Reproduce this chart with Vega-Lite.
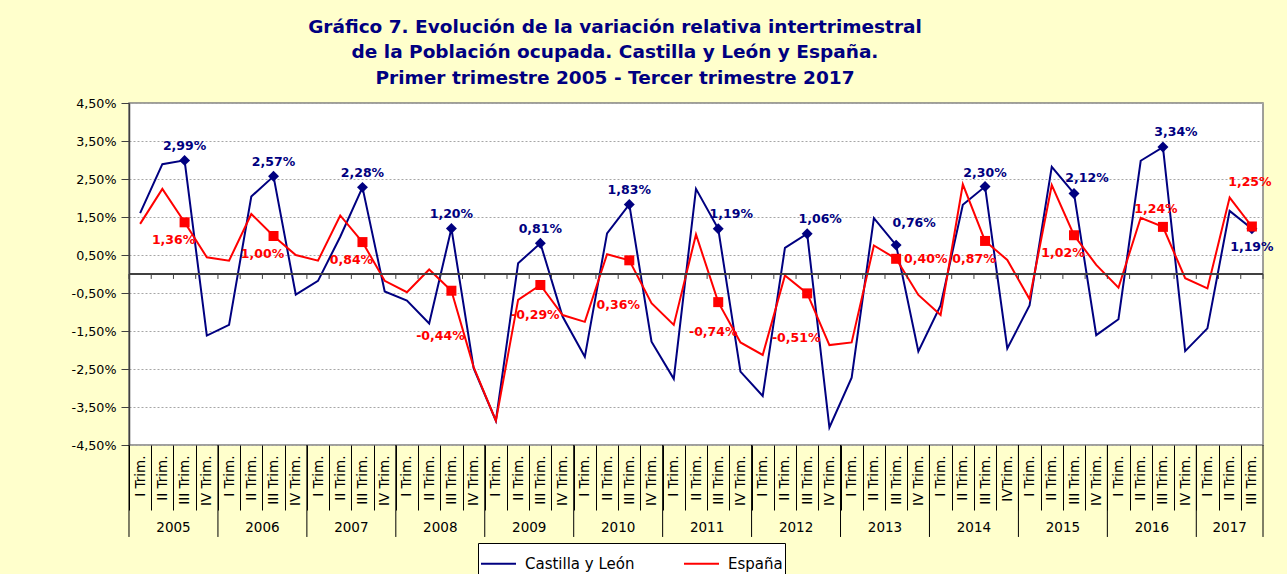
{
  "$schema": "https://vega.github.io/schema/vega-lite/v6.json",
  "width": 1134,
  "height": 342,
  "autosize": {"type": "none"},
  "padding": {"left": 129, "top": 103, "right": 24, "bottom": 129},
  "background": "#FFFFCC",
  "config": {
    "font": "DejaVu Sans",
    "view": {"fill": "white", "stroke": "#808080", "strokeWidth": 1.5}
  },
  "title": {
    "text": ["Gráfico 7. Evolución de la variación relativa intertrimestral", "de la Población ocupada. Castilla  y León y España.", "Primer trimestre 2005 - Tercer trimestre 2017"],
    "font": "DejaVu Sans",
    "fontSize": 18.5,
    "fontWeight": "bold",
    "color": "#000080",
    "anchor": "middle",
    "frame": "group",
    "dx": -81,
    "offset": 10,
    "lineHeight": 25.5
  },
  "datasets": {
    "wide": [
      {"q": "2005-1", "cyl": 1.60, "esp": 1.32},
      {"q": "2005-2", "cyl": 2.89, "esp": 2.24},
      {"q": "2005-3", "cyl": 2.99, "esp": 1.36},
      {"q": "2005-4", "cyl": -1.62, "esp": 0.44},
      {"q": "2006-1", "cyl": -1.34, "esp": 0.35},
      {"q": "2006-2", "cyl": 2.04, "esp": 1.58},
      {"q": "2006-3", "cyl": 2.57, "esp": 1.00},
      {"q": "2006-4", "cyl": -0.54, "esp": 0.50},
      {"q": "2007-1", "cyl": -0.18, "esp": 0.35},
      {"q": "2007-2", "cyl": 0.98, "esp": 1.54},
      {"q": "2007-3", "cyl": 2.28, "esp": 0.84},
      {"q": "2007-4", "cyl": -0.46, "esp": -0.18},
      {"q": "2008-1", "cyl": -0.70, "esp": -0.48},
      {"q": "2008-2", "cyl": -1.30, "esp": 0.12},
      {"q": "2008-3", "cyl": 1.20, "esp": -0.44},
      {"q": "2008-4", "cyl": -2.48, "esp": -2.45},
      {"q": "2009-1", "cyl": -3.86, "esp": -3.86},
      {"q": "2009-2", "cyl": 0.28, "esp": -0.68},
      {"q": "2009-3", "cyl": 0.81, "esp": -0.29},
      {"q": "2009-4", "cyl": -1.12, "esp": -1.08},
      {"q": "2010-1", "cyl": -2.18, "esp": -1.26},
      {"q": "2010-2", "cyl": 1.07, "esp": 0.52},
      {"q": "2010-3", "cyl": 1.83, "esp": 0.36},
      {"q": "2010-4", "cyl": -1.78, "esp": -0.77},
      {"q": "2011-1", "cyl": -2.76, "esp": -1.34},
      {"q": "2011-2", "cyl": 2.24, "esp": 1.04},
      {"q": "2011-3", "cyl": 1.19, "esp": -0.74},
      {"q": "2011-4", "cyl": -2.57, "esp": -1.80},
      {"q": "2012-1", "cyl": -3.21, "esp": -2.13},
      {"q": "2012-2", "cyl": 0.69, "esp": -0.04},
      {"q": "2012-3", "cyl": 1.06, "esp": -0.51},
      {"q": "2012-4", "cyl": -4.04, "esp": -1.87},
      {"q": "2013-1", "cyl": -2.73, "esp": -1.80},
      {"q": "2013-2", "cyl": 1.47, "esp": 0.75},
      {"q": "2013-3", "cyl": 0.76, "esp": 0.40},
      {"q": "2013-4", "cyl": -2.04, "esp": -0.55},
      {"q": "2014-1", "cyl": -0.83, "esp": -1.08},
      {"q": "2014-2", "cyl": 1.82, "esp": 2.36},
      {"q": "2014-3", "cyl": 2.30, "esp": 0.87},
      {"q": "2014-4", "cyl": -1.96, "esp": 0.37},
      {"q": "2015-1", "cyl": -0.83, "esp": -0.66},
      {"q": "2015-2", "cyl": 2.82, "esp": 2.34},
      {"q": "2015-3", "cyl": 2.12, "esp": 1.02},
      {"q": "2015-4", "cyl": -1.61, "esp": 0.24},
      {"q": "2016-1", "cyl": -1.19, "esp": -0.36},
      {"q": "2016-2", "cyl": 2.98, "esp": 1.48},
      {"q": "2016-3", "cyl": 3.34, "esp": 1.24},
      {"q": "2016-4", "cyl": -2.03, "esp": -0.11},
      {"q": "2017-1", "cyl": -1.43, "esp": -0.38},
      {"q": "2017-2", "cyl": 1.66, "esp": 2.01},
      {"q": "2017-3", "cyl": 1.19, "esp": 1.25}
    ],
    "years": [
      {"year": "2005", "first": "2005-1", "mid": "2005-3", "last": "2005-4"},
      {"year": "2006", "first": "2006-1", "mid": "2006-3", "last": "2006-4"},
      {"year": "2007", "first": "2007-1", "mid": "2007-3", "last": "2007-4"},
      {"year": "2008", "first": "2008-1", "mid": "2008-3", "last": "2008-4"},
      {"year": "2009", "first": "2009-1", "mid": "2009-3", "last": "2009-4"},
      {"year": "2010", "first": "2010-1", "mid": "2010-3", "last": "2010-4"},
      {"year": "2011", "first": "2011-1", "mid": "2011-3", "last": "2011-4"},
      {"year": "2012", "first": "2012-1", "mid": "2012-3", "last": "2012-4"},
      {"year": "2013", "first": "2013-1", "mid": "2013-3", "last": "2013-4"},
      {"year": "2014", "first": "2014-1", "mid": "2014-3", "last": "2014-4"},
      {"year": "2015", "first": "2015-1", "mid": "2015-3", "last": "2015-4"},
      {"year": "2016", "first": "2016-1", "mid": "2016-3", "last": "2016-4"},
      {"year": "2017", "first": "2017-1", "mid": "2017-2", "last": "2017-3"}
    ]
  },
  "layer": [
    {
      "data": {"name": "wide"},
      "transform": [{"fold": ["cyl", "esp"], "as": ["serie", "v"]}],
      "mark": {"type": "line", "strokeWidth": 2},
      "encoding": {
        "x": {"field": "q", "type": "ordinal", "title": null,
          "scale": {"type": "point", "padding": 0.5},
          "axis": {"orient": "bottom", "title": null, "domain": false, "grid": false,
            "ticks": true, "tickSize": 65, "tickColor": "black", "tickWidth": 1,
            "tickOffset": -11.12, "labelOffset": 11.12,
            "labelAngle": -90, "labelAlign": "right", "labelBaseline": "middle", "labelPadding": -55,
            "labelFont": "DejaVu Sans", "labelFontSize": 13.5, "labelColor": "black", "labelOverlap": false,
            "labelExpr": "datum.value == '2014-4' ? 'IVTrim.' : (slice(datum.value, 5) == '1' ? 'I Trim.' : slice(datum.value, 5) == '2' ? 'II Trim.' : slice(datum.value, 5) == '3' ? 'III Trim.' : 'IV Trim.')"}},
        "y": {"field": "v", "type": "quantitative", "title": null,
          "scale": {"domain": [-4.5, 4.5], "nice": false, "zero": false},
          "axis": {"orient": "left", "title": null, "values": [4.5, 3.5, 2.5, 1.5, 0.5, -0.5, -1.5, -2.5, -3.5, -4.5],
            "tickCount": 20,
            "labelExpr": "replace(replace(format(datum.value, '.2f'), '.', ','), '−', '-') + '%'",
            "labelFont": "DejaVu Sans", "labelFontSize": 12.7, "labelColor": "black", "labelOverlap": false,
            "labelPadding": 5, "tickSize": 8, "tickColor": "#404040", "domainColor": "#404040", "domainWidth": 1.5,
            "grid": true, "gridColor": "#A6A6A6", "gridDash": [2, 2], "gridWidth": 1}},
        "color": {"field": "serie", "type": "nominal",
          "scale": {"domain": ["cyl", "esp"], "range": ["#000080", "#FF0000"]},
          "legend": {"orient": "none", "legendX": 349, "legendY": 440, "direction": "horizontal", "title": null,
            "labelExpr": "datum.value == 'cyl' ? 'Castilla y León' : 'España'",
            "symbolType": "stroke", "symbolSize": 1225, "symbolStrokeWidth": 2,
            "labelFont": "DejaVu Sans", "labelFontSize": 15, "labelColor": "black", "labelOffset": 8,
            "strokeColor": "black", "fillColor": "white", "padding": 2, "columnPadding": 45}}
      }
    },
    {
      "data": {"name": "wide"},
      "mark": {"type": "rule", "color": "#404040", "strokeWidth": 1.5},
      "encoding": {
        "y": {"datum": 0, "title": null}
      }
    },
    {
      "data": {"name": "wide"},
      "mark": {"type": "rule", "color": "#404040", "strokeWidth": 1, "xOffset": -11.12},
      "encoding": {
        "x": {"field": "q", "type": "ordinal", "title": null},
        "y": {"datum": 0, "title": null},
        "y2": {"datum": -0.13}
      }
    },
    {
      "data": {"name": "wide"},
      "transform": [{"filter": "slice(datum.q, 5) == '3'"}],
      "mark": {"type": "point", "shape": "diamond", "filled": true, "opacity": 1, "size": 120, "color": "#000080"},
      "encoding": {
        "x": {"field": "q", "type": "ordinal", "title": null},
        "y": {"field": "cyl", "type": "quantitative", "title": null}
      }
    },
    {
      "data": {"name": "wide"},
      "transform": [{"filter": "slice(datum.q, 5) == '3'"}],
      "mark": {"type": "point", "shape": "square", "filled": true, "opacity": 1, "size": 100, "color": "#FF0000"},
      "encoding": {
        "x": {"field": "q", "type": "ordinal", "title": null},
        "y": {"field": "esp", "type": "quantitative", "title": null}
      }
    },
    {
      "data": {"name": "wide"},
      "transform": [{"filter": {"field": "q", "oneOf": ["2005-3", "2006-3", "2007-3", "2008-3", "2009-3", "2010-3", "2014-3"]}}],
      "mark": {"type": "text", "fontWeight": "bold", "fontSize": 12.5, "color": "#000080", "dx": 0, "dy": -14,
        "text": {"expr": "replace(replace(format(datum.cyl, '.2f'), '.', ','), '−', '-') + '%'"}},
      "encoding": {
        "x": {"field": "q", "type": "ordinal", "title": null},
        "y": {"field": "cyl", "type": "quantitative", "title": null}
      }
    },
    {
      "data": {"name": "wide"},
      "transform": [{"filter": {"field": "q", "oneOf": ["2011-3", "2012-3", "2015-3", "2016-3"]}}],
      "mark": {"type": "text", "fontWeight": "bold", "fontSize": 12.5, "color": "#000080", "dx": 13, "dy": -15,
        "text": {"expr": "replace(replace(format(datum.cyl, '.2f'), '.', ','), '−', '-') + '%'"}},
      "encoding": {
        "x": {"field": "q", "type": "ordinal", "title": null},
        "y": {"field": "cyl", "type": "quantitative", "title": null}
      }
    },
    {
      "data": {"name": "wide"},
      "transform": [{"filter": {"field": "q", "oneOf": ["2013-3"]}}],
      "mark": {"type": "text", "fontWeight": "bold", "fontSize": 12.5, "color": "#000080", "dx": 18, "dy": -22,
        "text": {"expr": "replace(replace(format(datum.cyl, '.2f'), '.', ','), '−', '-') + '%'"}},
      "encoding": {
        "x": {"field": "q", "type": "ordinal", "title": null},
        "y": {"field": "cyl", "type": "quantitative", "title": null}
      }
    },
    {
      "data": {"name": "wide"},
      "transform": [{"filter": {"field": "q", "oneOf": ["2017-3"]}}],
      "mark": {"type": "text", "fontWeight": "bold", "fontSize": 12.5, "color": "#000080", "dx": 0, "dy": 18,
        "text": {"expr": "replace(replace(format(datum.cyl, '.2f'), '.', ','), '−', '-') + '%'"}},
      "encoding": {
        "x": {"field": "q", "type": "ordinal", "title": null},
        "y": {"field": "cyl", "type": "quantitative", "title": null}
      }
    },
    {
      "data": {"name": "wide"},
      "transform": [{"filter": {"field": "q", "oneOf": ["2005-3", "2006-3", "2007-3", "2014-3", "2015-3"]}}],
      "mark": {"type": "text", "fontWeight": "bold", "fontSize": 12.5, "color": "#FF0000", "dx": -11, "dy": 18,
        "text": {"expr": "replace(replace(format(datum.esp, '.2f'), '.', ','), '−', '-') + '%'"}},
      "encoding": {
        "x": {"field": "q", "type": "ordinal", "title": null},
        "y": {"field": "esp", "type": "quantitative", "title": null}
      }
    },
    {
      "data": {"name": "wide"},
      "transform": [{"filter": {"field": "q", "oneOf": ["2008-3", "2010-3", "2012-3"]}}],
      "mark": {"type": "text", "fontWeight": "bold", "fontSize": 12.5, "color": "#FF0000", "dx": -11, "dy": 45,
        "text": {"expr": "replace(replace(format(datum.esp, '.2f'), '.', ','), '−', '-') + '%'"}},
      "encoding": {
        "x": {"field": "q", "type": "ordinal", "title": null},
        "y": {"field": "esp", "type": "quantitative", "title": null}
      }
    },
    {
      "data": {"name": "wide"},
      "transform": [{"filter": {"field": "q", "oneOf": ["2009-3", "2011-3"]}}],
      "mark": {"type": "text", "fontWeight": "bold", "fontSize": 12.5, "color": "#FF0000", "dx": -5, "dy": 30,
        "text": {"expr": "replace(replace(format(datum.esp, '.2f'), '.', ','), '−', '-') + '%'"}},
      "encoding": {
        "x": {"field": "q", "type": "ordinal", "title": null},
        "y": {"field": "esp", "type": "quantitative", "title": null}
      }
    },
    {
      "data": {"name": "wide"},
      "transform": [{"filter": {"field": "q", "oneOf": ["2013-3"]}}],
      "mark": {"type": "text", "fontWeight": "bold", "fontSize": 12.5, "color": "#FF0000", "align": "left", "dx": 8, "dy": 0,
        "text": {"expr": "replace(replace(format(datum.esp, '.2f'), '.', ','), '−', '-') + '%'"}},
      "encoding": {
        "x": {"field": "q", "type": "ordinal", "title": null},
        "y": {"field": "esp", "type": "quantitative", "title": null}
      }
    },
    {
      "data": {"name": "wide"},
      "transform": [{"filter": {"field": "q", "oneOf": ["2016-3"]}}],
      "mark": {"type": "text", "fontWeight": "bold", "fontSize": 12.5, "color": "#FF0000", "dx": -7, "dy": -18,
        "text": {"expr": "replace(replace(format(datum.esp, '.2f'), '.', ','), '−', '-') + '%'"}},
      "encoding": {
        "x": {"field": "q", "type": "ordinal", "title": null},
        "y": {"field": "esp", "type": "quantitative", "title": null}
      }
    },
    {
      "data": {"name": "wide"},
      "transform": [{"filter": {"field": "q", "oneOf": ["2017-3"]}}],
      "mark": {"type": "text", "fontWeight": "bold", "fontSize": 12.5, "color": "#FF0000", "dx": -2, "dy": -45,
        "text": {"expr": "replace(replace(format(datum.esp, '.2f'), '.', ','), '−', '-') + '%'"}},
      "encoding": {
        "x": {"field": "q", "type": "ordinal", "title": null},
        "y": {"field": "esp", "type": "quantitative", "title": null}
      }
    },
    {
      "data": {"name": "years"},
      "transform": [{"filter": "datum.year != '2017'"}],
      "mark": {"type": "text", "fontSize": 13.5, "color": "black", "baseline": "middle", "xOffset": -11.12},
      "encoding": {
        "x": {"field": "mid", "type": "ordinal", "title": null},
        "y": {"datum": -6.68, "title": null},
        "text": {"field": "year"}
      }
    },
    {
      "data": {"name": "years"},
      "transform": [{"filter": "datum.year == '2017'"}],
      "mark": {"type": "text", "fontSize": 13.5, "color": "black", "baseline": "middle"},
      "encoding": {
        "x": {"field": "mid", "type": "ordinal", "title": null},
        "y": {"datum": -6.68, "title": null},
        "text": {"field": "year"}
      }
    },
    {
      "data": {"name": "years"},
      "mark": {"type": "rule", "color": "black", "strokeWidth": 1, "xOffset": -11.12},
      "encoding": {
        "x": {"field": "first", "type": "ordinal", "title": null},
        "y": {"datum": -4.5, "title": null},
        "y2": {"datum": -6.92}
      }
    },
    {
      "data": {"name": "years"},
      "transform": [{"filter": "datum.year == '2017'"}],
      "mark": {"type": "rule", "color": "black", "strokeWidth": 1, "xOffset": 11.12},
      "encoding": {
        "x": {"field": "last", "type": "ordinal", "title": null},
        "y": {"datum": -4.5, "title": null},
        "y2": {"datum": -6.92}
      }
    },
    {
      "data": {"name": "years"},
      "transform": [{"filter": "datum.year == '2017'"}],
      "mark": {"type": "rule", "color": "#404040", "strokeWidth": 1, "xOffset": 11.12},
      "encoding": {
        "x": {"field": "last", "type": "ordinal", "title": null},
        "y": {"datum": 0, "title": null},
        "y2": {"datum": -0.13}
      }
    }
  ]
}
